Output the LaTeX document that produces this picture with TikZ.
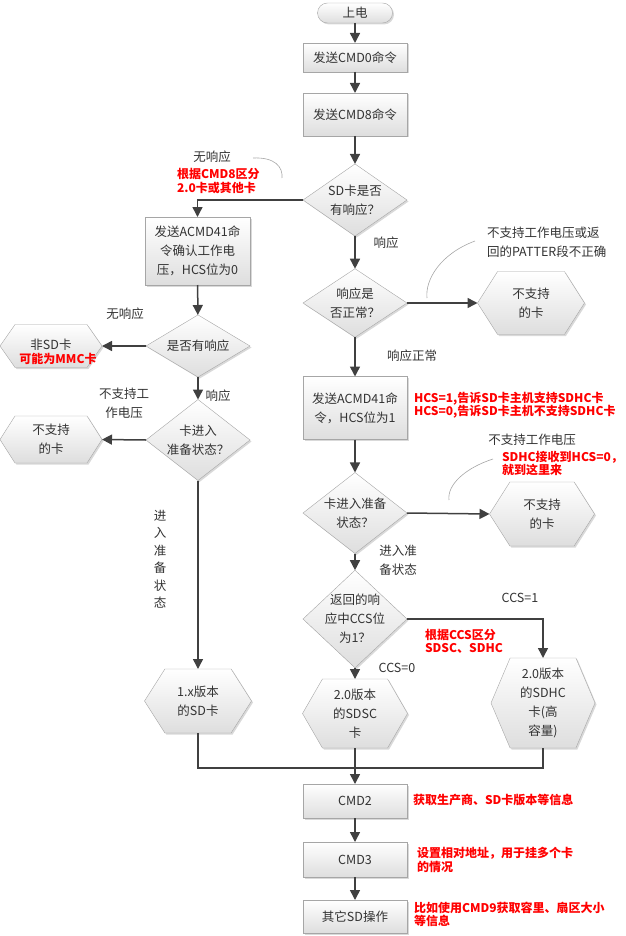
\documentclass[tikz,border=0pt]{standalone}
\usepackage{fontspec}
\setmainfont{Noto Sans CJK SC}
\usetikzlibrary{shapes.geometric,shapes.symbols,arrows.meta,shadows}
\definecolor{linegray}{HTML}{404040}
\definecolor{edgegray}{HTML}{A6A6A6}
\definecolor{txtgray}{HTML}{333333}
\definecolor{notered}{HTML}{FF0000}
\tikzset{
  every node/.style={font=\fontsize{12.5}{19}\selectfont, text=txtgray, outer sep=0pt},
  shapefill/.style={draw=edgegray, top color=white, bottom color=black!13,
    drop shadow={shadow xshift=1.5pt, shadow yshift=-1.5pt, opacity=.3}},
  procbox/.style={shapefill, rectangle, minimum width=104pt, align=center, inner sep=2pt},
  termbox/.style={shapefill, rectangle, rounded corners=10pt, minimum width=75pt, minimum height=20pt, inner sep=1pt},
  decbox/.style={shapefill, diamond, inner sep=-3pt, align=center},
  hexbox/.style={shapefill, signal, signal to=east and west, signal pointer angle=115, align=center, inner sep=1pt},
  lbl/.style={align=center, inner sep=0pt},
  redlbl/.style={font=\fontsize{12}{13.5}\selectfont\bfseries, text=notered, align=left, inner sep=0pt, anchor=west},
  arr/.style={draw=linegray, line width=1.5pt, -{Triangle[length=10pt,width=10pt]}},
  plain/.style={draw=linegray, line width=1.5pt},
  curl/.style={draw=black!35, line width=0.6pt}
}
\begin{document}
\begin{tikzpicture}
    \useasboundingbox (0pt,0pt) rectangle (625pt,-936pt);
    % main column
    \node[termbox] (start) at (355pt,-13pt) {上电};
    \node[procbox, minimum height=29pt] (cmdzero) at (355pt,-57.5pt) {发送CMD0命令};
    \node[procbox, minimum height=43pt] (cmdeight) at (355pt,-114.5pt) {发送CMD8命令};
    \node[decbox, minimum width=104pt, minimum height=64pt] (qresp) at (355pt,-200pt) {SD卡是否\\有响应？};
    \node[decbox, minimum width=104pt, minimum height=63pt] (qok) at (355pt,-303pt) {响应是\\否正常？};
    \node[procbox, minimum height=63pt] (acmdone) at (355pt,-408pt) {发送ACMD41命\\令，HCS位为1};
    \node[decbox, minimum width=104pt, minimum height=63pt] (qready) at (355pt,-513pt) {卡进入准备\\状态？};
    \node[decbox, minimum width=104pt, minimum height=90pt] (qccs) at (355pt,-619pt) {返回的响\\应中CCS位\\为1？};
    \node[hexbox, minimum width=105pt, minimum height=69pt, signal pointer angle=120] (sdsc) at (355pt,-713.5pt) {2.0版本\\的SDSC\\卡};
    \node[procbox, minimum height=34pt] (cmdtwo) at (355pt,-801pt) {CMD2};
    \node[procbox, minimum height=35pt] (cmdthree) at (355pt,-859.5pt) {CMD3};
    \node[procbox, minimum height=33pt] (other) at (355pt,-916.5pt) {其它SD操作};
    % left column
    \node[procbox, minimum width=105pt, minimum height=68pt] (acmdzero) at (197.5pt,-251pt) {发送ACMD41命\\令确认工作电\\压，HCS位为0};
    \node[decbox, minimum width=104pt, minimum height=62pt] (qleftresp) at (198pt,-346pt) {是否有响应};
    \node[decbox, minimum width=104pt, minimum height=64pt] (qleftready) at (198pt,-440pt) {卡进入\\准备状态？};
    \node[hexbox, minimum width=102pt, minimum height=43pt, signal pointer angle=110] (nonsd) at (51pt,-346pt) {\raisebox{4pt}{非SD卡}};
    \node[hexbox, minimum width=102pt, minimum height=47pt] (badleft) at (51pt,-439.5pt) {不支持\\的卡};
    \node[hexbox, minimum width=107pt, minimum height=64pt] (sdone) at (198pt,-701pt) {1.x版本\\的SD卡};
    % right column
    \node[hexbox, minimum width=107pt, minimum height=63pt] (badok) at (531pt,-303pt) {不支持\\的卡};
    \node[hexbox, minimum width=105pt, minimum height=64pt] (badready) at (542pt,-514pt) {不支持\\的卡};
    \node[hexbox, minimum width=104pt, minimum height=90pt, signal pointer angle=134] (sdhc) at (543pt,-703pt) {2.0版本\\的SDHC\\卡(高\\容量)};
    \coordinate (merge) at (355pt,-768pt);

    % connectors
    \draw[arr] (start) -- (cmdzero);
    \draw[arr] (cmdzero) -- (cmdeight);
    \draw[arr] (cmdeight) -- (qresp);
    \draw[arr] (qresp.west) -| (acmdzero.north);
    \draw[arr] (acmdzero) -- (qleftresp);
    \draw[arr] (qleftresp.west) -- (nonsd.east);
    \draw[arr] (qleftresp) -- (qleftready);
    \draw[arr] (qleftready.west) -- (badleft.east);
    \draw[arr] (qleftready.south) -- (sdone.north);
    \draw[arr] (qresp.south) -- (qok.north);
    \draw[arr] (qok.east) -- (badok.west);
    \draw[arr] (qok.south) -- (acmdone.north);
    \draw[arr] (acmdone.south) -- (qready.north);
    \draw[arr] (qready.east) -- (badready.west);
    \draw[arr] (qready.south) -- (qccs.north);
    \draw[arr] (qccs.east) -| (sdhc.north);
    \draw[arr] (qccs.south) -- (sdsc.north);
    \draw[plain] (sdone.south) |- (merge);
    \draw[plain] (sdhc.south) |- (merge);
    \draw[arr] (sdsc.south) -- (cmdtwo.north);
    \draw[arr] (cmdtwo) -- (cmdthree);
    \draw[arr] (cmdthree) -- (other);

    % edge labels
    \node[lbl] (lnoresp) at (212pt,-157pt) {无响应};
    \node[lbl] (lresp) at (386pt,-243pt) {响应};
    \node[lbl] (lokresp) at (412pt,-356pt) {响应正常};
    \node[lbl] (lnorespleft) at (125pt,-314pt) {无响应};
    \node[lbl] (lrespleft) at (218pt,-396pt) {响应};
    \node[lbl] (lvoltleft) at (124pt,-403pt) {不支持工\\作电压};
    \node[lbl, font=\fontsize{12.5}{17.5}\selectfont] (lreadyleft) at (160pt,-559pt) {进\\入\\准\\备\\状\\态};
    \node[lbl, align=left, anchor=west] (lpatter) at (487pt,-242pt) {不支持工作电压或返\\回的PATTER段不正确};
    \node[lbl] (lvolt) at (532pt,-440pt) {不支持工作电压};
    \node[lbl] (lready) at (398pt,-560pt) {进入准\\备状态};
    \node[lbl] (lccsone) at (520pt,-598pt) {CCS=1};
    \node[lbl] (lccszero) at (397pt,-668pt) {CCS=0};

    % red notes
    \node[redlbl] (ncmdeight) at (177pt,-181pt) {根据CMD8区分\\2.0卡或其他卡};
    \node[redlbl, anchor=center] (nmmc) at (58pt,-359pt) {可能为MMC卡};
    \node[redlbl] (nhcs) at (414pt,-405pt) {HCS=1,告诉SD卡主机支持SDHC卡\\HCS=0,告诉SD卡主机不支持SDHC卡};
    \node[redlbl] (nsdhc) at (502pt,-463.5pt) {SDHC接收到HCS=0，\\就到这里来};
    \node[redlbl] (nccs) at (425pt,-641.5pt) {根据CCS区分\\SDSC、SDHC};
    \node[redlbl] (ncmdtwo) at (413pt,-800pt) {获取生产商、SD卡版本等信息};
    \node[redlbl] (ncmdthree) at (417pt,-860pt) {设置相对地址，用于挂多个卡\\的情况};
    \node[redlbl] (nother) at (414pt,-914.5pt) {比如使用CMD9获取容里、扇区大小\\等信息};

    % callout curves
    \draw[curl] (253pt,-158pt) .. controls (275pt,-157pt) and (283pt,-167pt) .. (282pt,-178pt);
    \draw[curl] (475pt,-241pt) .. controls (440pt,-254pt) and (425pt,-280pt) .. (427pt,-298pt);
    \draw[curl] (493pt,-459pt) .. controls (465pt,-468pt) and (447pt,-485pt) .. (449pt,-500pt);
\end{tikzpicture}
\end{document}
